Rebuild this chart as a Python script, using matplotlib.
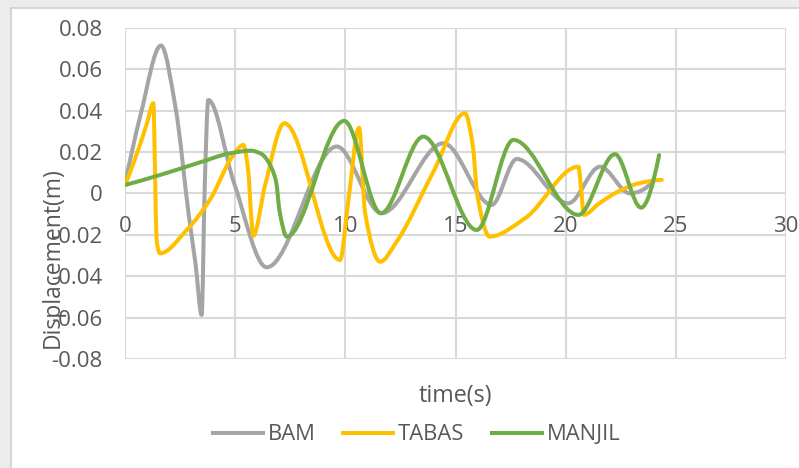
import matplotlib
matplotlib.use("Agg")
import matplotlib.pyplot as plt
from matplotlib.path import Path
from matplotlib.patches import PathPatch, Rectangle
from matplotlib.lines import Line2D
import numpy as np

# ---- data ----
bam_t = [0, 0.71, 1.63, 2.3, 2.9, 3.2, 3.48, 3.62, 3.78,
         4.95, 6.43, 9.61, 11.65, 14.45, 16.64, 17.78, 20.12, 21.56, 22.92,
         23.98]
bam_d = [0.0045, 0.038, 0.0714, 0.041, -0.011, -0.034,
         -0.0587, 0.004, 0.0451, 0.005, -0.0357, 0.0226, -0.0096, 0.0242,
         -0.0056, 0.0166, -0.0048, 0.0129, 0.0, 0.006]

tabas_t = [0, 0.6, 1.0, 1.29, 1.36, 1.43, 1.59, 2.8, 3.86, 4.92, 5.37, 5.6,
           5.72, 5.82, 6.36, 7.23, 9.76, 10.14, 10.62, 10.9, 11.58, 12.33,
           14.0, 15.43, 15.78, 15.99, 16.55, 18.16, 20.58, 20.72, 20.82, 21.5,
           22.5, 23.3, 24.36]
tabas_d = [0.004, 0.021, 0.034, 0.0435, 0.012, -0.022, -0.029, -0.0177, -0.003,
           0.0186, 0.0234, 0.010, -0.010, -0.0205, 0.004, 0.0339, -0.0322,
           -0.0032, 0.0317, -0.0096, -0.033, -0.0233, 0.0105, 0.0387, 0.0234,
           -0.0008, -0.0209, -0.012, 0.0129, 0.0, -0.0104, -0.005, 0.0015,
           0.0048, 0.0065]

manjil_t = [0, 1.6, 3.5, 4.7, 5.7, 6.2, 6.5, 6.85, 7.03, 7.34, 9.95, 11.62,
            13.54, 15.96, 17.63, 20.58, 22.24, 23.42, 24.24]
manjil_d = [0.004, 0.0089, 0.0153, 0.0192, 0.0206, 0.019, 0.0153, 0.006,
            -0.0096, -0.0209, 0.035, -0.0096, 0.0274, -0.0177, 0.0258, -0.0104,
            0.0189, -0.0069, 0.0185]

series_names = ["BAM", "TABAS", "MANJIL"]
series_colors = ["#A5A5A5", "#FFC000", "#70AD47"]

xticks = [0, 5, 10, 15, 20, 25, 30]
xtick_labels = ["0", "5", "10", "15", "20", "25", "30"]
yticks = [-0.08, -0.06, -0.04, -0.02, 0, 0.02, 0.04, 0.06, 0.08]
ytick_labels = ["-0.08", "-0.06", "-0.04", "-0.02", "0", "0.02", "0.04", "0.06", "0.08"]

FONT = "Open Sans"
TXT = "#595959"
GRID = "#D9D9D9"


def smooth_path(x, y):
    """Monotone cubic (Fritsch-Carlson) bezier path through the data points."""
    x = np.asarray(x, float)
    y = np.asarray(y, float)
    h = np.diff(x)
    dl = np.diff(y) / h
    n = len(x)
    d = np.zeros(n)
    for i in range(1, n - 1):
        if dl[i - 1] * dl[i] > 0:
            w1 = 2 * h[i] + h[i - 1]
            w2 = h[i] + 2 * h[i - 1]
            d[i] = (w1 + w2) / (w1 / dl[i - 1] + w2 / dl[i])

    def end(h0, h1, m0, m1):
        dd = ((2 * h0 + h1) * m0 - h0 * m1) / (h0 + h1)
        if np.sign(dd) != np.sign(m0):
            dd = 0.0
        elif np.sign(m0) != np.sign(m1) and abs(dd) > abs(3 * m0):
            dd = 3 * m0
        return dd

    d[0] = end(h[0], h[1], dl[0], dl[1])
    d[-1] = end(h[-1], h[-2], dl[-1], dl[-2])
    verts = [(x[0], y[0])]
    codes = [Path.MOVETO]
    for i in range(n - 1):
        hh = h[i] / 3.0
        verts += [(x[i] + hh, y[i] + d[i] * hh),
                  (x[i + 1] - hh, y[i + 1] - d[i + 1] * hh),
                  (x[i + 1], y[i + 1])]
        codes += [Path.CURVE4] * 3
    return Path(verts, codes)


W, H = 799, 468
fig = plt.figure(figsize=(W / 100, H / 100), dpi=100, facecolor="#ECECEC")
fig.patches.append(Rectangle((11 / W, -0.1), 1.2, 1.1 - 8 / H,
                             transform=fig.transFigure, facecolor="white",
                             edgecolor="#D0D0D0", lw=1.2, zorder=-10))

ax = fig.add_axes([125 / W, 1 - 359 / H, (786 - 125) / W, (359 - 27.7) / H])
ax.set_zorder(2)
ax.set_facecolor("white")
ax.set_xlim(0, 30)
ax.set_ylim(-0.08, 0.08)

for t, dval, c in zip([bam_t, tabas_t, manjil_t], [bam_d, tabas_d, manjil_d],
                      series_colors):
    p = PathPatch(smooth_path(t, dval), facecolor="none", edgecolor=c,
                  lw=2.9, capstyle="round", joinstyle="round", zorder=3)
    ax.add_patch(p)

ax.set_xticks(xticks)
ax.set_xticklabels(xtick_labels)
ax.set_yticks(yticks)
ax.set_yticklabels(ytick_labels)
ax.grid(True, color=GRID, lw=1.5)
ax.set_axisbelow(True)
for s in ax.spines.values():
    s.set_visible(False)
ax.spines["bottom"].set_position(("data", 0))
ax.tick_params(axis="both", length=0, labelcolor=TXT, labelsize=16)
ax.tick_params(axis="x", pad=16)
ax.tick_params(axis="y", pad=16)
for lab in ax.get_xticklabels() + ax.get_yticklabels():
    lab.set_fontfamily(FONT)

fig.text(455.5 / W, 1 - 396 / H, "time(s)", ha="center", va="center",
         fontsize=16.8, color=TXT, family=FONT)
fig.text(53 / W, 1 - 258 / H, "Displacement(m)", ha="center", va="center",
         rotation=90, fontsize=16.5, color=TXT, family=FONT)

handles = [Line2D([], [], color=c, lw=2.9) for c in series_colors]
fig.legend(handles, series_names, loc="center", bbox_to_anchor=(416.5 / W, 1 - 435 / H),
           ncol=3, frameon=False, handlelength=2.3, handletextpad=0.2,
           columnspacing=1.25, prop={"family": FONT, "size": 15.8},
           labelcolor=TXT)

fig.savefig("out.png", dpi=100, facecolor=fig.get_facecolor())
